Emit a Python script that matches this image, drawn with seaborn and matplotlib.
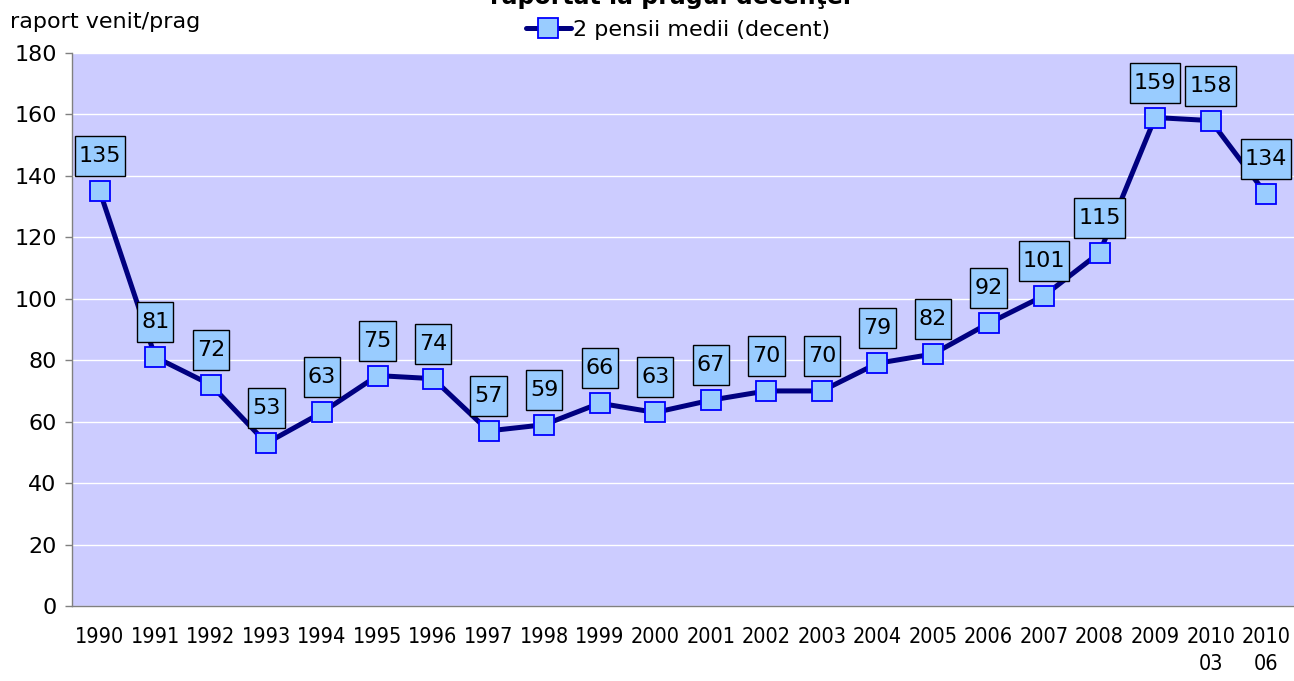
import matplotlib
matplotlib.use("Agg")
import matplotlib.pyplot as plt
from matplotlib.path import Path
import seaborn as sns
import pandas as pd
import numpy as np

categories = ["1990", "1991", "1992", "1993", "1994", "1995", "1996", "1997", "1998",
              "1999", "2000", "2001", "2002", "2003", "2004", "2005", "2006", "2007",
              "2008", "2009", "2010\n03", "2010\n06"]
values = [135, 81, 72, 53, 63, 75, 74, 57, 59, 66, 63, 67, 70, 70, 79, 82, 92, 101,
          115, 159, 158, 134]
series_name = "2 pensii medii (decent)"
y_ticks = [0, 20, 40, 60, 80, 100, 120, 140, 160, 180]

sns.set_style("white")
plt.rcParams['font.family'] = ['DejaVu Sans']

W, H = 1294, 681
fig = plt.figure(figsize=(W / 100, H / 100), dpi=100)
ax = fig.add_axes([72 / W, 1 - 606 / H, 1 - 72 / W, (606 - 53) / H])
ax.set_facecolor("#CCCCFF")

df = pd.DataFrame({"cat": categories, "val": values, "series": series_name})
sns.lineplot(data=df, x="cat", y="val", hue="series", palette=["#000080"],
             sort=False, lw=3.6, marker="s", markersize=14,
             markerfacecolor="#99CCFF", markeredgecolor="#0000FF",
             markeredgewidth=1.3, ax=ax, zorder=3)

ax.set_xlim(-0.5, len(categories) - 0.5)
ax.set_ylim(0, 180)
ax.set_yticks(y_ticks)
ax.yaxis.grid(True, color="white", lw=1)
ax.set_axisbelow(True)

for sp in ["top", "right"]:
    ax.spines[sp].set_visible(False)
for sp in ["left", "bottom"]:
    ax.spines[sp].set_color("#808080")
    ax.spines[sp].set_linewidth(1)

ax.set_xlabel("")
ax.set_ylabel("")
ax.set_xticks(range(len(categories)))
ax.set_xticklabels(categories, fontfamily="DejaVu Sans", fontstretch="condensed",
                   fontsize=15.5, linespacing=1.45, color="black")
ax.tick_params(axis="x", which="major", length=0, pad=15)
ax.set_xticks(np.arange(-0.5, len(categories), 1), minor=True)
ax.tick_params(axis="x", which="minor", length=6, color="#808080", width=1, direction="out")
ax.tick_params(axis="y", length=5, color="#808080", width=1, direction="out",
               labelsize=16, pad=6, left=True, labelcolor="black")
for lab in ax.get_xticklabels():
    lab.set_verticalalignment("top")


def label_box(x0, y0, width, height, mutation_size):
    px, py = 4.0, 10.0
    x0, y0 = x0 - px, y0 - py
    x1, y1 = x0 + width + 2 * px, y0 + height + 2 * py
    return Path([(x0, y0), (x1, y0), (x1, y1), (x0, y1), (x0, y0)],
                [Path.MOVETO, Path.LINETO, Path.LINETO, Path.LINETO, Path.CLOSEPOLY])


for i, v in enumerate(values):
    ax.annotate(str(v), (i, v), xytext=(0, 35), textcoords="offset pixels",
                ha="center", va="center", fontsize=16, color="black", zorder=5,
                bbox=dict(boxstyle=label_box, fc="#99CCFF", ec="black", lw=1),
                annotation_clip=False)

leg = ax.legend(loc="center", bbox_to_anchor=(678 / W, 1 - 30 / H),
                bbox_transform=fig.transFigure, frameon=False, fontsize=16,
                handlelength=2.0, handletextpad=0.1, borderpad=0)
for t in leg.get_texts():
    t.set_color("black")

fig.text(10 / W, 1 - 22 / H, "raport venit/prag", fontsize=16, ha="left", va="center",
         color="black")
fig.text(670 / W, 1 - 4 / H, "raportat la pragul decenţei", fontsize=17,
         fontweight="bold", ha="center", va="baseline", color="black")

fig.savefig("out.png", dpi=100)
